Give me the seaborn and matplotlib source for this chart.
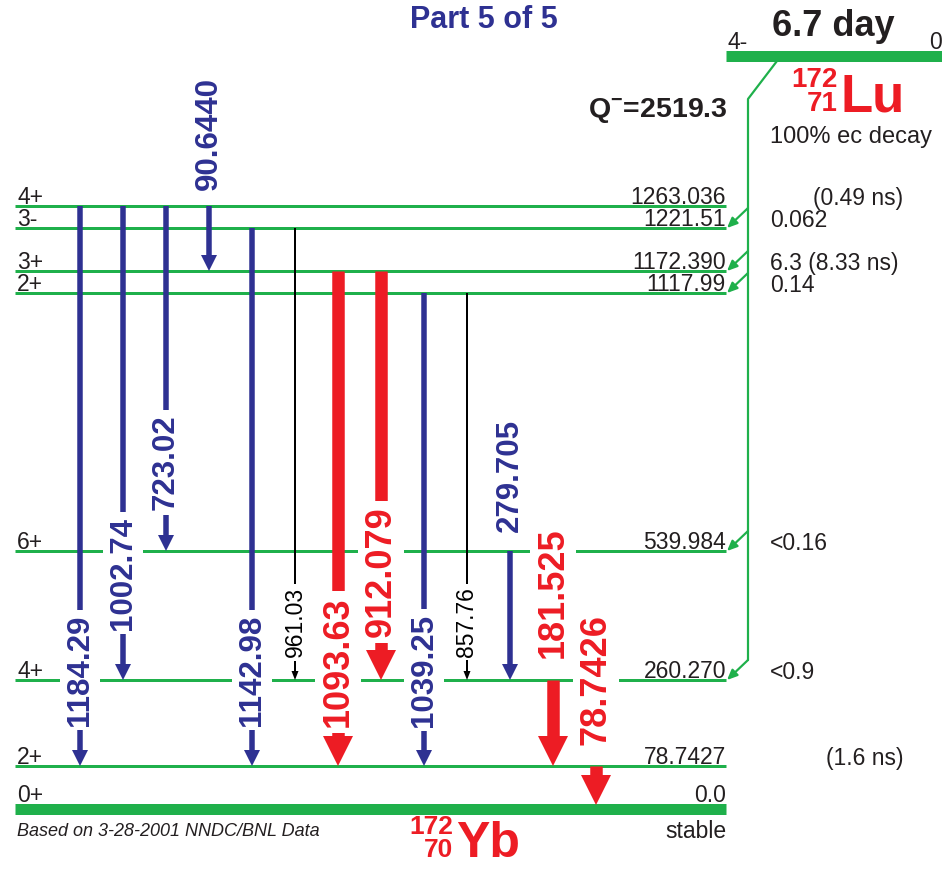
import numpy as np
import pandas as pd
import matplotlib
matplotlib.use("Agg")
import matplotlib.pyplot as plt
import seaborn as sns
from matplotlib.patches import Polygon

# ---------------- data ----------------
level_energy = ["1263.036", "1221.51", "1172.390", "1117.99", "539.984", "260.270", "78.7427", "0.0"]
level_spin = ["4+", "3-", "3+", "2+", "6+", "4+", "2+", "0+"]
level_feed_text = ["", "0.062", "6.3 (8.33 ns)", "0.14", "<0.16", "<0.9", "", ""]
level_halflife = ["(0.49 ns)", "", "", "", "", "", "(1.6 ns)", ""]
level_fed = [False, True, True, True, True, True, False, False]

gamma_energy = ["1184.29", "1002.74", "723.02", "90.6440", "1142.98", "961.03",
                "1093.63", "912.079", "1039.25", "857.76", "279.705", "181.525", "78.7426"]
gamma_from = [0, 0, 0, 0, 1, 1, 2, 2, 3, 3, 4, 5, 6]
gamma_to = [6, 5, 4, 2, 6, 5, 6, 5, 6, 5, 5, 6, 7]
gamma_class = ["mid", "mid", "mid", "mid", "mid", "weak",
               "strong", "strong", "mid", "weak", "mid", "strong", "strong"]

parent_name = "Lu"
parent_A, parent_Z = "172", "71"
daughter_name = "Yb"
daughter_A, daughter_Z = "172", "70"
parent_halflife = "6.7 day"
parent_spin, parent_energy = "4-", "0"
q_value = "2519.3"

# ---------------- layout (pixel space) ----------------
W, H = 942, 869
level_y = [206, 228, 271, 293, 551, 680, 766, 809]
level_x0, level_x1 = 15, 726
label_y = [670, 573, 462, 133, 670, 622, 662, 572, 670, 622, 475, 593, 680]
col_x0, col_dx = 80, 43

BLUE = "#2e3192"
RED = "#ed1c24"
GREEN = "#1fb04b"
INK = "#231f20"
PT = 72.0 / 100.0  # points per pixel

styles = {
    "mid": dict(color=BLUE, shaft=5.5, hw=16, hl=16, fs=22.5, fw="bold"),
    "strong": dict(color=RED, shaft=12.5, hw=30, hl=30, fs=26, fw="bold"),
    "weak": dict(color="black", shaft=2, hw=7, hl=9, fs=16.5, fw="normal"),
}

sns.set_theme(style="white")
plt.rcParams["font.family"] = ["Liberation Sans", "DejaVu Sans"]
plt.rcParams["mathtext.fontset"] = "custom"
plt.rcParams["mathtext.rm"] = "Liberation Sans"
plt.rcParams["mathtext.bf"] = "Liberation Sans:bold"

fig = plt.figure(figsize=(W / 100, H / 100), dpi=100)
ax = fig.add_axes([0, 0, 1, 1])
ax.set_xlim(0, W)
ax.set_ylim(H, 0)
ax.axis("off")

# levels
for i, (y, e, s) in enumerate(zip(level_y, level_energy, level_spin)):
    lw = 11 if i == len(level_y) - 1 else 3
    ax.hlines(y, level_x0, level_x1, color=GREEN, lw=lw * PT, zorder=1)
    off = 7 if i == len(level_y) - 1 else 2
    ax.text(17, y - off, s, ha="left", va="baseline", fontsize=16.5, color=INK, zorder=5)
    ax.text(level_x1, y - off, e, ha="right", va="baseline", fontsize=16.5, color=INK, zorder=5)
    if level_feed_text[i]:
        ax.text(770, y - 1, level_feed_text[i], ha="left", va="baseline", fontsize=16.5, color=INK)
    if level_halflife[i]:
        ax.text(903, y - 1, level_halflife[i], ha="right", va="baseline", fontsize=16.5, color=INK)

# gammas
for k, (g, f, t, c) in enumerate(zip(gamma_energy, gamma_from, gamma_to, gamma_class)):
    st = styles[c]
    x = col_x0 + col_dx * k
    y0, y1 = level_y[f], level_y[t]
    if t == len(level_y) - 1:
        y1 = y1 - 4
    ax.plot([x, x], [y0, y1 - st["hl"] + 1], color=st["color"], lw=st["shaft"] * PT,
            solid_capstyle="butt", zorder=2)
    ax.add_patch(Polygon([(x - st["hw"] / 2, y1 - st["hl"]), (x + st["hw"] / 2, y1 - st["hl"]), (x, y1)],
                         closed=True, color=st["color"], lw=0, zorder=2))
    ax.text(x, label_y[k], g, rotation=90, ha="center", va="center", fontsize=st["fs"],
            fontweight=st["fw"], color=st["color"], zorder=4,
            bbox=dict(boxstyle="square,pad=0.15", fc="white", ec="none"))

# parent level and feeding
ax.hlines(56, 726, W, color=GREEN, lw=11 * PT, zorder=1)
ax.plot([777, 748, 748], [61, 99, level_y[5] - 20], color=GREEN, lw=2.2 * PT, zorder=1)
for i, fed in enumerate(level_fed):
    if fed:
        ax.annotate("", xy=(727, level_y[i]), xytext=(748, level_y[i] - 20),
                    arrowprops=dict(arrowstyle="-|>,head_length=0.5,head_width=0.22",
                                    color=GREEN, lw=2.2 * PT, shrinkA=0, shrinkB=0))

ax.text(728, 49, parent_spin, ha="left", va="baseline", fontsize=16.5, color=INK)
ax.text(929, 49, parent_energy, ha="left", va="baseline", fontsize=16.5, color=INK)
ax.text(833, 36, parent_halflife, ha="center", va="baseline", fontsize=26, fontweight="bold", color=INK)
ax.text(588, 118, r"Q$^{\mathbf{-}}$=" + q_value, ha="left", va="baseline", fontsize=20.5,
        fontweight="bold", color=INK)
ax.text(484, 28, "Part 5 of 5", ha="center", va="baseline", fontsize=22, fontweight="bold", color=BLUE)

# parent nuclide
ax.text(841, 111, parent_name, ha="left", va="baseline", fontsize=38, fontweight="bold", color=RED)
ax.text(838, 87, parent_A, ha="right", va="baseline", fontsize=20, fontweight="bold", color=RED)
ax.text(838, 111, parent_Z, ha="right", va="baseline", fontsize=20, fontweight="bold", color=RED)
ax.text(770, 143, "100% ec decay", ha="left", va="baseline", fontsize=17, color=INK)

# daughter nuclide
ax.text(456, 857, daughter_name, ha="left", va="baseline", fontsize=36, fontweight="bold", color=RED)
ax.text(453, 834, daughter_A, ha="right", va="baseline", fontsize=19, fontweight="bold", color=RED)
ax.text(453, 857, daughter_Z, ha="right", va="baseline", fontsize=19, fontweight="bold", color=RED)
ax.text(17, 836, "Based on 3-28-2001 NNDC/BNL Data", ha="left", va="baseline", fontsize=13,
        fontstyle="italic", color=INK)
ax.text(level_x1, 838, "stable", ha="right", va="baseline", fontsize=16.5, color=INK)

fig.savefig("out.png", dpi=100)
